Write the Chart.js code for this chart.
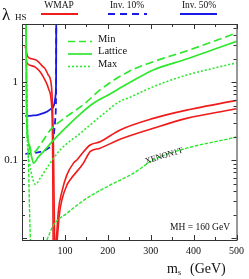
<!DOCTYPE html>
<html>
<head>
<meta charset="utf-8">
<script src="https://cdn.jsdelivr.net/npm/chart.js@4.4.1/dist/chart.umd.min.js"></script>
<style>
html, body { margin: 0; padding: 0; background: #fff; }
</style>
</head>
<body>
<canvas id="chart" width="249" height="279"></canvas>
<script>
// axis ticks
const xTickLabels = [100, 200, 300, 400, 500];
const xTickMarks = [0, 50, 100, 150, 200, 250, 300, 350, 400, 450, 500];
const yTickLabels = [0.1, 1];
const yTickMarks = [0.01, 0.02, 0.03, 0.04, 0.05, 0.06, 0.07, 0.08, 0.09,
  0.1, 0.2, 0.3, 0.4, 0.5, 0.6, 0.7, 0.8, 0.9, 1, 2, 3, 4, 5];

// WMAP (red), two curves each with a left and right branch
const wmapUpperLeftM = [7.5, 10, 13, 23, 35, 48, 54, 61, 66, 69.7, 71, 72.8, 74, 76];
const wmapUpperLeftL = [2.9, 2.5, 2.15, 2.0, 1.9, 1.6, 1.49, 1.25, 1.1, 0.75, 0.48, 0.224, 0.075, 0.0095];
const wmapUpperRightM = [80, 85, 93, 104.6, 120, 128, 143, 158.8, 182, 228.6, 306, 383.7, 496, 500];
const wmapUpperRightL = [0.0095, 0.023, 0.0396, 0.065, 0.092, 0.101, 0.128, 0.157, 0.173, 0.245, 0.345, 0.44, 0.58, 0.585];
const wmapLowerLeftM = [10, 13, 31, 43, 50, 58, 61.8, 68, 70.4, 71.6, 72.5];
const wmapLowerLeftL = [1.85, 1.73, 1.57, 1.35, 1.17, 0.95, 0.83, 0.59, 0.33, 0.1, 0.0095];
const wmapLowerRightM = [82, 87, 93, 104.6, 112, 143, 158.8, 182, 228.6, 306, 383.7, 496, 500];
const wmapLowerRightL = [0.0095, 0.02, 0.031, 0.048, 0.056, 0.0916, 0.129, 0.143, 0.186, 0.257, 0.345, 0.455, 0.46];

// invisible width (blue)
const inv50M = [7.7, 23, 34.8, 48, 58, 66, 73.5, 77.4, 79, 79.5, 79.8];
const inv50L = [0.37, 0.375, 0.38, 0.4, 0.42, 0.45, 0.49, 0.62, 0.8, 1.2, 5.6];
const inv10M = [7.7, 23, 42.5, 53, 61.8, 71, 73.5, 75.5, 77.4, 79, 79.5, 79.8];
const inv10L = [0.121, 0.123, 0.128, 0.134, 0.143, 0.165, 0.193, 0.25, 0.33, 0.5, 0.9, 5.6];

// direct detection (green)
const minM = [9.5, 10, 10.5, 12, 17, 23, 31, 48, 65.8, 103, 147, 182, 248, 306, 383, 443, 500];
const minL = [5.6, 2, 0.6, 0.25, 0.16, 0.125, 0.13, 0.175, 0.244, 0.36, 0.538, 0.8, 1.37, 1.84, 2.52, 3.3, 4.3];
const latticeM = [9.5, 10, 10.5, 11.5, 15, 21, 27, 38, 50, 73, 104.6, 133, 166.5, 203, 248, 306, 383.7, 443, 500];
const latticeL = [5.6, 2, 0.6, 0.25, 0.17, 0.12, 0.092, 0.11, 0.129, 0.18, 0.27, 0.38, 0.538, 0.7, 0.97, 1.44, 1.99, 2.6, 3.35];
const maxM = [9.5, 10.5, 11.6, 13, 18, 25, 31, 42.5, 58, 89, 135.6, 182, 228, 248, 306, 383.7, 443, 500];
const maxL = [5.6, 1, 0.3, 0.15, 0.09, 0.058, 0.049, 0.059, 0.08, 0.136, 0.222, 0.362, 0.57, 0.63, 0.88, 1.24, 1.5, 1.78];
const xenonLeftM = [9.5, 11, 13, 15.3, 17, 19.5];
const xenonLeftL = [5.6, 1, 0.3, 0.087, 0.031, 0.0095];
const xenonRightM = [58, 73.5, 104.6, 151, 205, 259.5, 306, 383.7, 496, 500];
const xenonRightL = [0.0095, 0.0148, 0.0209, 0.0326, 0.048, 0.068, 0.101, 0.143, 0.197, 0.2];

const legendTop = ['WMAP', 'Inv. 10%', 'Inv. 50%'];
const legendInner = ['Min', 'Lattice', 'Max'];

const RED = '#f01c1c', BLUE = '#1a1ae6', GREEN = '#2de82d';
const SERIF = '"Liberation Serif", "DejaVu Serif", serif';

function pts(m, l) { return m.map((v, i) => ({ x: v, y: l[i] })); }
function broken(m1, l1, m2, l2) {
  return pts(m1, l1).concat([{ x: m1[m1.length - 1], y: null }], pts(m2, l2));
}
function line(data, color, width, dash) {
  return { data, borderColor: color, borderWidth: width, borderDash: dash || [],
    pointRadius: 0, fill: false, spanGaps: false, cubicInterpolationMode: 'monotone' };
}

const datasets = [
  line(broken(xenonLeftM, xenonLeftL, xenonRightM, xenonRightL), GREEN, 1.4, [3.5, 1.5]),
  line(pts(maxM, maxL), GREEN, 1.6, [2, 2]),
  line(pts(latticeM, latticeL), GREEN, 1.7),
  line(pts(minM, minL), GREEN, 1.7, [8, 4]),
  line(broken(wmapUpperLeftM, wmapUpperLeftL, wmapUpperRightM, wmapUpperRightL), RED, 1.6),
  line(broken(wmapLowerLeftM, wmapLowerLeftL, wmapLowerRightM, wmapLowerRightL), RED, 1.6),
  line(pts(inv50M, inv50L), BLUE, 1.8),
  line(pts(inv10M, inv10L), BLUE, 1.8, [6, 4])
];

function seg(ctx, x1, y1, x2, y2) {
  ctx.beginPath(); ctx.moveTo(x1, y1); ctx.lineTo(x2, y2); ctx.stroke();
}

const framePlugin = {
  id: 'frame',
  afterDraw(chart) {
    const { ctx, chartArea: a, scales: { x, y } } = chart;
    ctx.save();
    ctx.strokeStyle = '#333';
    ctx.lineWidth = 1;
    ctx.strokeRect(a.left + 0.5, a.top + 0.5, a.right - a.left, a.bottom - a.top);
    xTickMarks.forEach(v => {
      const px = Math.round(x.getPixelForValue(v)) + 0.5;
      const len = v % 100 === 0 ? 5 : 3;
      seg(ctx, px, a.bottom, px, a.bottom - len);
      seg(ctx, px, a.top, px, a.top + len);
    });
    yTickMarks.forEach(v => {
      const py = Math.round(y.getPixelForValue(v)) + 0.5;
      const len = yTickLabels.includes(v) || v === 0.01 ? 5 : 3;
      seg(ctx, a.left, py, a.left + len, py);
      seg(ctx, a.right, py, a.right - len, py);
    });

    ctx.fillStyle = '#111';
    ctx.textBaseline = 'alphabetic';
    // y title
    ctx.font = '17px ' + SERIF;
    ctx.fillText('λ', 2, 20);
    ctx.font = '9px ' + SERIF;
    ctx.fillText('HS', 15, 20);

    // top legend
    const topItems = [
      { cx: 59, x1: 41, x2: 78, color: RED, dash: [] },
      { cx: 127, x1: 108, x2: 147, color: BLUE, dash: [7, 5] },
      { cx: 199, x1: 180, x2: 217, color: BLUE, dash: [] }
    ];
    ctx.font = '9.5px ' + SERIF;
    ctx.textAlign = 'center';
    topItems.forEach((it, i) => {
      ctx.fillStyle = '#111';
      ctx.fillText(legendTop[i], it.cx, 8);
      ctx.strokeStyle = it.color;
      ctx.lineWidth = 1.8;
      ctx.setLineDash(it.dash);
      seg(ctx, it.x1, 14, it.x2, 14);
    });

    // inner legend
    const innerItems = [
      { y: 41.5, dash: [7, 4], w: 1.7 },
      { y: 54, dash: [], w: 1.7 },
      { y: 66.5, dash: [2, 2], w: 1.6 }
    ];
    ctx.textAlign = 'left';
    ctx.textBaseline = 'middle';
    ctx.font = '10.5px ' + SERIF;
    innerItems.forEach((it, i) => {
      ctx.strokeStyle = GREEN;
      ctx.lineWidth = it.w;
      ctx.setLineDash(it.dash);
      seg(ctx, 68, it.y, 92, it.y);
      ctx.fillStyle = '#111';
      ctx.fillText(legendInner[i], 98, it.y - 2.5);
    });
    ctx.setLineDash([]);

    // annotations
    ctx.textBaseline = 'alphabetic';
    ctx.font = '9.5px ' + SERIF;
    ctx.textAlign = 'right';
    ctx.fillText('MH = 160 GeV', 230, 230);

    ctx.save();
    ctx.translate(164, 156);
    ctx.rotate(-17 * Math.PI / 180);
    ctx.textAlign = 'center';
    ctx.textBaseline = 'middle';
    ctx.font = '8.5px ' + SERIF;
    ctx.fillText('XENON1T', 0, 0);
    ctx.restore();

    // x title
    ctx.textAlign = 'left';
    ctx.font = '14px ' + SERIF;
    ctx.fillText('m', 167, 273);
    const mw = ctx.measureText('m').width;
    ctx.font = '8px ' + SERIF;
    ctx.fillText('s', 167 + mw, 275);
    ctx.font = '14px ' + SERIF;
    ctx.fillText('(GeV)', 190, 273);
    ctx.restore();
  }
};

new Chart(document.getElementById('chart'), {
  type: 'line',
  data: { datasets },
  options: {
    responsive: false,
    animation: false,
    layout: { padding: { top: 24, right: 11, left: 0, bottom: 0 } },
    plugins: { legend: { display: false }, tooltip: { enabled: false } },
    scales: {
      x: {
        type: 'linear', min: 0, max: 500,
        grid: { display: false, drawTicks: false },
        border: { display: false },
        afterBuildTicks: s => { s.ticks = xTickLabels.map(v => ({ value: v })); },
        afterFit: s => { s.height = 39; },
        ticks: { padding: 5, color: '#111', maxRotation: 0, autoSkip: false,
          font: { family: SERIF, size: 10 } }
      },
      y: {
        type: 'logarithmic', min: 0.0095, max: 5.6,
        grid: { display: false, drawTicks: false },
        border: { display: false },
        afterBuildTicks: s => { s.ticks = yTickLabels.map(v => ({ value: v })); },
        afterFit: s => { s.width = 22; },
        ticks: { padding: 4, color: '#111', autoSkip: false,
          font: { family: SERIF, size: 11 }, callback: v => String(v) }
      }
    }
  },
  plugins: [framePlugin]
});
</script>
</body>
</html>
